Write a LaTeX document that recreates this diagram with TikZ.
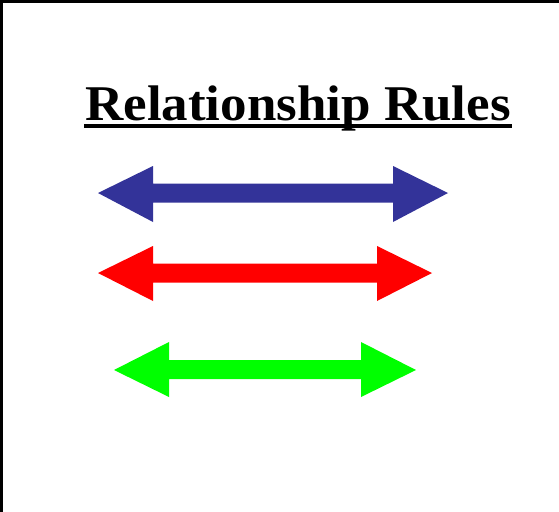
\documentclass[tikz,border=0pt]{standalone}
\usepackage{fontspec}
\setmainfont{Liberation Serif}
\usepackage{graphicx}
\definecolor{arrblue}{RGB}{51,51,153}
\definecolor{arrred}{RGB}{255,0,0}
\definecolor{arrgreen}{RGB}{0,255,0}
\tikzset{
  frameline/.style={line width=3.3pt, black, line cap=rect},
  dblarrow/.style={draw=none},
  titletext/.style={inner sep=0pt, anchor=base, font=\bfseries\fontsize{50}{60}\selectfont},
  underlinebar/.style={fill=black, draw=none}
}
\begin{document}
\begin{tikzpicture}[x=1pt,y=-1pt]
\useasboundingbox (0,0) rectangle (559,511);
\fill[white] (0,0) rectangle (559,511);
% frame (top and left)
\coordinate (tl) at (1.6,1.6);
\coordinate (tr) at (559,1.6);
\coordinate (bl) at (1.6,511);
\draw[frameline] (tr) -- (tl) -- (bl);
% title
\node[titletext] (title) at (298,120) {\scalebox{1.06}[1]{Relationship Rules}};
\fill[underlinebar] (84,124.3) rectangle (512,127.7);
% blue arrow
\fill[arrblue, dblarrow] (98,193) -- (153,166) -- (153,183.5) -- (393,183.5) -- (393,166) -- (448,193)
  -- (393,222) -- (393,202.5) -- (153,202.5) -- (153,222) -- cycle;
% red arrow
\fill[arrred, dblarrow] (98,273) -- (153,246) -- (153,263.5) -- (377,263.5) -- (377,246) -- (432,273)
  -- (377,301) -- (377,282.5) -- (153,282.5) -- (153,301) -- cycle;
% green arrow
\fill[arrgreen, dblarrow] (114,370) -- (169,342) -- (169,360) -- (361,360) -- (361,342) -- (416,370)
  -- (361,397) -- (361,379) -- (169,379) -- (169,397) -- cycle;
\end{tikzpicture}
\end{document}
